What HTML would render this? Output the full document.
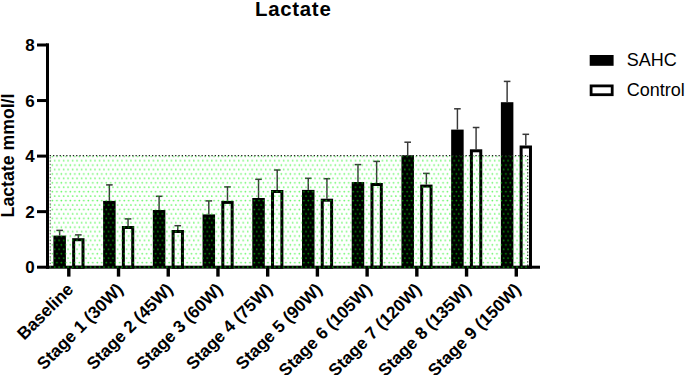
<!DOCTYPE html><html><head><meta charset="utf-8"><style>html,body{margin:0;padding:0;background:#fff;}svg{display:block;}text{font-family:"Liberation Sans",sans-serif;}</style></head><body><svg width="685" height="375" viewBox="0 0 685 375"><defs><pattern id="dots" patternUnits="userSpaceOnUse" x="0" y="0" width="4.490" height="8.866"><circle cx="0.770" cy="1.050" r="0.88" fill="rgb(10,240,10)" fill-opacity="0.62"/><circle cx="3.015" cy="5.480" r="0.88" fill="rgb(10,240,10)" fill-opacity="0.62"/><circle cx="5.260" cy="1.050" r="0.88" fill="rgb(10,240,10)" fill-opacity="0.62"/><circle cx="-1.475" cy="5.480" r="0.88" fill="rgb(10,240,10)" fill-opacity="0.62"/></pattern></defs><rect width="685" height="375" fill="#fff"/><text x="255.00" y="15.7" font-size="20.4" font-weight="bold" letter-spacing="0.72" fill="#000">Lactate</text><text transform="translate(14.3,155.5) rotate(-90)" font-size="17.7" font-weight="bold" text-anchor="middle" fill="#000">Lactate mmol/l</text><rect x="53.40" y="235.60" width="12.50" height="31.60" fill="#000"/><rect x="58.92" y="230.40" width="1.45" height="5.20" fill="#383838"/><rect x="56.35" y="229.65" width="6.60" height="1.50" fill="#383838"/><rect x="77.60" y="234.90" width="1.45" height="3.30" fill="#383838"/><rect x="75.02" y="234.15" width="6.60" height="1.50" fill="#383838"/><rect x="73.65" y="239.70" width="9.35" height="27.50" fill="#fff" stroke="#000" stroke-width="3.00"/><rect x="103.12" y="200.90" width="12.50" height="66.30" fill="#000"/><rect x="108.64" y="184.90" width="1.45" height="16.00" fill="#383838"/><rect x="106.07" y="184.15" width="6.60" height="1.50" fill="#383838"/><rect x="127.32" y="218.90" width="1.45" height="7.10" fill="#383838"/><rect x="124.74" y="218.15" width="6.60" height="1.50" fill="#383838"/><rect x="123.37" y="227.50" width="9.35" height="39.70" fill="#fff" stroke="#000" stroke-width="3.00"/><rect x="152.84" y="210.00" width="12.50" height="57.20" fill="#000"/><rect x="158.37" y="196.30" width="1.45" height="13.70" fill="#383838"/><rect x="155.79" y="195.55" width="6.60" height="1.50" fill="#383838"/><rect x="177.04" y="225.70" width="1.45" height="4.30" fill="#383838"/><rect x="174.47" y="224.95" width="6.60" height="1.50" fill="#383838"/><rect x="173.09" y="231.50" width="9.35" height="35.70" fill="#fff" stroke="#000" stroke-width="3.00"/><rect x="202.56" y="214.40" width="12.50" height="52.80" fill="#000"/><rect x="208.08" y="200.90" width="1.45" height="13.50" fill="#383838"/><rect x="205.51" y="200.15" width="6.60" height="1.50" fill="#383838"/><rect x="226.76" y="186.90" width="1.45" height="14.00" fill="#383838"/><rect x="224.18" y="186.15" width="6.60" height="1.50" fill="#383838"/><rect x="222.81" y="202.40" width="9.35" height="64.80" fill="#fff" stroke="#000" stroke-width="3.00"/><rect x="252.28" y="198.00" width="12.50" height="69.20" fill="#000"/><rect x="257.80" y="179.30" width="1.45" height="18.70" fill="#383838"/><rect x="255.23" y="178.55" width="6.60" height="1.50" fill="#383838"/><rect x="276.48" y="170.00" width="1.45" height="20.00" fill="#383838"/><rect x="273.91" y="169.25" width="6.60" height="1.50" fill="#383838"/><rect x="272.53" y="191.50" width="9.35" height="75.70" fill="#fff" stroke="#000" stroke-width="3.00"/><rect x="302.00" y="189.90" width="12.50" height="77.30" fill="#000"/><rect x="307.52" y="178.30" width="1.45" height="11.60" fill="#383838"/><rect x="304.95" y="177.55" width="6.60" height="1.50" fill="#383838"/><rect x="326.20" y="178.70" width="1.45" height="20.00" fill="#383838"/><rect x="323.62" y="177.95" width="6.60" height="1.50" fill="#383838"/><rect x="322.25" y="200.20" width="9.35" height="67.00" fill="#fff" stroke="#000" stroke-width="3.00"/><rect x="351.72" y="182.00" width="12.50" height="85.20" fill="#000"/><rect x="357.25" y="164.60" width="1.45" height="17.40" fill="#383838"/><rect x="354.67" y="163.85" width="6.60" height="1.50" fill="#383838"/><rect x="375.92" y="161.40" width="1.45" height="21.60" fill="#383838"/><rect x="373.35" y="160.65" width="6.60" height="1.50" fill="#383838"/><rect x="371.97" y="184.50" width="9.35" height="82.70" fill="#fff" stroke="#000" stroke-width="3.00"/><rect x="401.44" y="155.30" width="12.50" height="111.90" fill="#000"/><rect x="406.96" y="142.20" width="1.45" height="13.10" fill="#383838"/><rect x="404.39" y="141.45" width="6.60" height="1.50" fill="#383838"/><rect x="425.64" y="173.40" width="1.45" height="11.20" fill="#383838"/><rect x="423.06" y="172.65" width="6.60" height="1.50" fill="#383838"/><rect x="421.69" y="186.10" width="9.35" height="81.10" fill="#fff" stroke="#000" stroke-width="3.00"/><rect x="451.16" y="129.60" width="12.50" height="137.60" fill="#000"/><rect x="456.69" y="108.80" width="1.45" height="20.80" fill="#383838"/><rect x="454.11" y="108.05" width="6.60" height="1.50" fill="#383838"/><rect x="475.36" y="127.50" width="1.45" height="21.80" fill="#383838"/><rect x="472.79" y="126.75" width="6.60" height="1.50" fill="#383838"/><rect x="471.41" y="150.80" width="9.35" height="116.40" fill="#fff" stroke="#000" stroke-width="3.00"/><rect x="500.88" y="102.20" width="12.50" height="165.00" fill="#000"/><rect x="506.40" y="81.40" width="1.45" height="20.80" fill="#383838"/><rect x="503.83" y="80.65" width="6.60" height="1.50" fill="#383838"/><rect x="525.08" y="134.30" width="1.45" height="11.20" fill="#383838"/><rect x="522.50" y="133.55" width="6.60" height="1.50" fill="#383838"/><rect x="521.13" y="147.00" width="9.35" height="120.20" fill="#fff" stroke="#000" stroke-width="3.00"/><rect x="46" y="43.3" width="3" height="225.5" fill="#000"/><rect x="37" y="265.7" width="503" height="3" fill="#000"/><rect x="37" y="210.15" width="10" height="3" fill="#000"/><rect x="37" y="154.60" width="10" height="3" fill="#000"/><rect x="37" y="99.05" width="10" height="3" fill="#000"/><rect x="37" y="43.50" width="10" height="3" fill="#000"/><rect x="67.10" y="266" width="3.4" height="10.6" fill="#000"/><rect x="116.82" y="266" width="3.4" height="10.6" fill="#000"/><rect x="166.54" y="266" width="3.4" height="10.6" fill="#000"/><rect x="216.26" y="266" width="3.4" height="10.6" fill="#000"/><rect x="265.98" y="266" width="3.4" height="10.6" fill="#000"/><rect x="315.70" y="266" width="3.4" height="10.6" fill="#000"/><rect x="365.42" y="266" width="3.4" height="10.6" fill="#000"/><rect x="415.14" y="266" width="3.4" height="10.6" fill="#000"/><rect x="464.86" y="266" width="3.4" height="10.6" fill="#000"/><rect x="514.58" y="266" width="3.4" height="10.6" fill="#000"/><rect x="49.70" y="155.70" width="478.00" height="112.80" fill="url(#dots)"/><line x1="49.70" y1="155.70" x2="527.70" y2="155.70" stroke="#222" stroke-width="1.2" stroke-dasharray="1.3 2.0"/><line x1="50.20" y1="157.20" x2="50.20" y2="268.50" stroke="#555" stroke-width="1.0" stroke-dasharray="1.3 2.0"/><line x1="527.70" y1="155.70" x2="527.70" y2="268.50" stroke="#222" stroke-width="1.1" stroke-dasharray="1.3 2.0"/><text x="34.6" y="273.20" font-size="17" font-weight="bold" text-anchor="end" fill="#000">0</text><text x="34.6" y="217.65" font-size="17" font-weight="bold" text-anchor="end" fill="#000">2</text><text x="34.6" y="162.10" font-size="17" font-weight="bold" text-anchor="end" fill="#000">4</text><text x="34.6" y="106.55" font-size="17" font-weight="bold" text-anchor="end" fill="#000">6</text><text x="34.6" y="51.00" font-size="17" font-weight="bold" text-anchor="end" fill="#000">8</text><text transform="translate(74.40,290.50) rotate(-45)" font-size="17.3" font-weight="bold" text-anchor="end" fill="#000">Baseline</text><text transform="translate(124.12,290.50) rotate(-45)" font-size="17.3" font-weight="bold" text-anchor="end" fill="#000">Stage 1 (30W)</text><text transform="translate(173.84,290.50) rotate(-45)" font-size="17.3" font-weight="bold" text-anchor="end" fill="#000">Stage 2 (45W)</text><text transform="translate(223.56,290.50) rotate(-45)" font-size="17.3" font-weight="bold" text-anchor="end" fill="#000">Stage 3 (60W)</text><text transform="translate(273.28,290.50) rotate(-45)" font-size="17.3" font-weight="bold" text-anchor="end" fill="#000">Stage 4 (75W)</text><text transform="translate(323.00,290.50) rotate(-45)" font-size="17.3" font-weight="bold" text-anchor="end" fill="#000">Stage 5 (90W)</text><text transform="translate(372.72,290.50) rotate(-45)" font-size="17.3" font-weight="bold" text-anchor="end" fill="#000">Stage 6 (105W)</text><text transform="translate(422.44,290.50) rotate(-45)" font-size="17.3" font-weight="bold" text-anchor="end" fill="#000">Stage 7 (120W)</text><text transform="translate(472.16,290.50) rotate(-45)" font-size="17.3" font-weight="bold" text-anchor="end" fill="#000">Stage 8 (135W)</text><text transform="translate(521.88,290.50) rotate(-45)" font-size="17.3" font-weight="bold" text-anchor="end" fill="#000">Stage 9 (150W)</text><rect x="589.7" y="55" width="23.9" height="10.8" fill="#000"/><rect x="591.1" y="85.9" width="21.1" height="8.8" fill="#fff" stroke="#000" stroke-width="2.8"/><text x="626.7" y="65.6" font-size="18" fill="#000">SAHC</text><text x="626.7" y="95.7" font-size="18" fill="#000">Control</text></svg></body></html>
